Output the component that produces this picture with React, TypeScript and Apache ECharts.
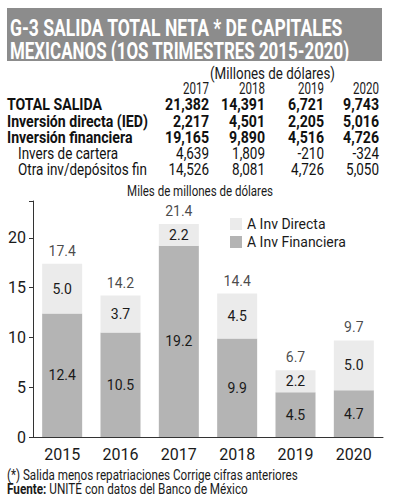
import React, { useEffect, useRef } from "react";
import * as echarts from "echarts";

const years = ["2015", "2016", "2017", "2018", "2019", "2020"];
const invFinanciera = [12.4, 10.5, 19.2, 9.9, 4.5, 4.7];
const invDirecta = [5.0, 3.7, 2.2, 4.5, 2.2, 5.0];
const totals = [17.4, 14.2, 21.4, 14.4, 6.7, 9.7];

const tableYears = ["2017", "2018", "2019", "2020"];
const rowLabels = ["TOTAL SALIDA", "Inversión directa (IED)", "Inversión financiera", "Invers de cartera", "Otra inv/depósitos fin"];
const rowBold = [true, true, true, false, false];
const rowTotal = ["21,382", "14,391", "6,721", "9,743"];
const rowDirecta = ["2,217", "4,501", "2,205", "5,016"];
const rowFinanciera = ["19,165", "9,890", "4,516", "4,726"];
const rowCartera = ["4,639", "1,809", "-210", "-324"];
const rowOtra = ["14,526", "8,081", "4,726", "5,050"];
const rowValues = [rowTotal, rowDirecta, rowFinanciera, rowCartera, rowOtra];

const FONT = "Roboto, sans-serif";
const DARK = "#b4b4b4";
const LIGHT = "#ebebeb";
const INK = "#1a1a1a";

let ctx: CanvasRenderingContext2D | null = null;
function measure(text: string, font: string): number {
  if (!ctx) ctx = document.createElement("canvas").getContext("2d");
  if (!ctx) return text.length * 8;
  ctx.font = font;
  return ctx.measureText(text).width;
}
function fit(text: string, font: string, target: number): number {
  return target / measure(text, font);
}

export default function App() {
  const ref = useRef<HTMLDivElement>(null);
  useEffect(() => {
    if (!ref.current) return;
    const chart = echarts.init(ref.current, null, { renderer: "svg" });

    const titleFont = `bold 24px ${FONT}`;
    const boldFont = `bold 16px ${FONT}`;
    const regFont = `16px ${FONT}`;
    const yearFont = `16px ${FONT}`;
    const smallFont = `14px ${FONT}`;
    const footFont = `14px ${FONT}`;

    const boldScale = fit("Inversión directa (IED)", boldFont, 141);
    const regScale = fit("Otra inv/depósitos fin", regFont, 129);
    const yearScale = fit("2017", yearFont, 26);

    const colX = [209, 265, 324, 379];
    const rowY = [105, 122, 138, 154, 170];

    const txt = (x: number, y: number, text: string, font: string, scale: number, align = "left", fill = INK) => ({
      type: "text", x, y, scaleX: scale,
      style: { text, fill, font, align, verticalAlign: "middle" },
    });

    const l1 = "G-3 SALIDA TOTAL NETA * DE CAPITALES";
    const l2 = "MEXICANOS (1OS TRIMESTRES 2015-2020)";
    const mil = "(Millones de dólares)";
    const miles = "Miles de millones de dólares";
    const f1 = "(*) Salida menos repatriaciones Corrige cifras anteriores";
    const f2 = "Fuente: UNITÉ con datos del Banco de México";

    const graphic: any[] = [
      { type: "rect", shape: { x: 7, y: 8, width: 375, height: 53 }, style: { fill: "#8c8c8c" } },
      txt(10, 28, l1, titleFont, fit(l1, titleFont, 333), "left", "#fff"),
      txt(10, 51, l2, titleFont, fit(l2, titleFont, 340), "left", "#fff"),
      txt(335, 74, mil, regFont, fit(mil, regFont, 125), "right"),
      txt(200, 191, miles, smallFont, fit(miles, smallFont, 146), "center"),
      txt(7, 475, f1, footFont, fit(f1, footFont, 291), "left"),
      {
        type: "text", x: 7, y: 489, scaleX: fit(f2, footFont, 240),
        style: {
          text: "{b|Fuente:} UNITÉ con datos del Banco de México",
          fill: INK, font: footFont, verticalAlign: "middle",
          rich: { b: { fontWeight: "bold", fontSize: 14, fontFamily: FONT, fill: INK } },
        },
      },
    ];
    tableYears.forEach((y, i) => graphic.push(txt(colX[i], 88, y, yearFont, yearScale, "right")));
    rowLabels.forEach((label, ri) => {
      const b = rowBold[ri];
      const f = b ? boldFont : regFont;
      const s = b ? boldScale : regScale;
      graphic.push(txt(b ? 7 : 18, rowY[ri], label, f, s, "left", "#111"));
      rowValues[ri].forEach((v, i) => graphic.push(txt(colX[i], rowY[ri], v, f, s, "right", "#111")));
    });

    const valLabel = { show: true, fontSize: 14, color: INK, fontFamily: FONT, formatter: (p: any) => Number(p.value).toFixed(1) };

    chart.setOption({
      animation: false,
      textStyle: { fontFamily: FONT },
      grid: { left: 33, right: 12, top: 201, height: 236 },
      legend: {
        left: 225, top: 212, orient: "vertical", itemWidth: 12, itemHeight: 12, itemGap: 4,
        icon: "rect", textStyle: { fontSize: 14, color: INK, fontFamily: FONT },
        data: ["A Inv Directa", "A Inv Financiera"],
      },
      xAxis: {
        type: "category", data: years,
        axisLine: { lineStyle: { color: "#333" } },
        axisTick: { show: false },
        axisLabel: { fontSize: 16, color: INK, margin: 9, fontFamily: FONT },
      },
      yAxis: {
        type: "value", min: 0, max: 23.7, interval: 5,
        axisLine: { show: true, lineStyle: { color: "#333" } },
        axisTick: { show: true, length: 4, lineStyle: { color: "#333" } },
        splitLine: { show: false },
        axisLabel: {
          fontSize: 16, color: INK, margin: 7, fontFamily: FONT,
          formatter: (v: number) => (v % 5 === 0 ? String(v) : ""),
        },
      },
      series: [
        {
          name: "A Inv Financiera", type: "bar", stack: "t", data: invFinanciera, barWidth: 40,
          itemStyle: { color: DARK }, label: { ...valLabel, position: "inside" },
        },
        {
          name: "A Inv Directa", type: "bar", stack: "t", data: invDirecta, barWidth: 40,
          itemStyle: { color: LIGHT }, label: { ...valLabel, position: "inside" },
        },
        {
          name: "Total", type: "scatter", data: totals, symbolSize: 0, silent: true,
          label: { ...valLabel, position: "top", distance: 6 },
        },
      ],
      graphic,
    });
    return () => chart.dispose();
  }, []);
  return <div ref={ref} style={{ position: "fixed", left: 0, top: 0, width: 395, height: 500, background: "#fff" }} />;
}
